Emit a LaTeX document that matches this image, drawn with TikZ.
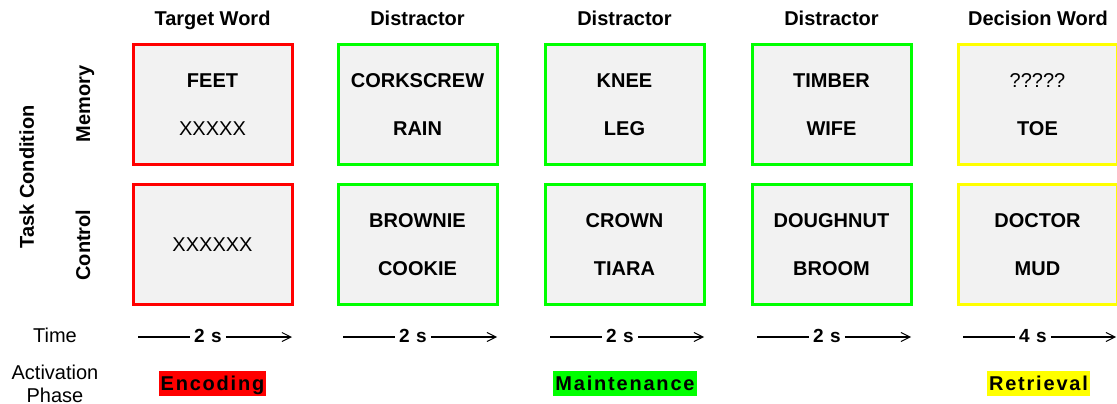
\documentclass[tikz,border=0pt]{standalone}
\usepackage{fontspec}
\setmainfont{Liberation Sans}
\usetikzlibrary{arrows.meta}
\definecolor{boxgrey}{RGB}{242,242,242}
\definecolor{encred}{RGB}{255,0,0}
\definecolor{mntgreen}{RGB}{0,255,0}
\definecolor{retyellow}{RGB}{255,255,0}
\tikzset{
  big/.style={font=\fontsize{20}{24}\selectfont},
  bigbf/.style={font=\fontsize{20}{24}\selectfont\bfseries},
  capline/.style={text height=14pt, text depth=0pt, inner sep=0pt},
  trialbox/.style={draw=#1, line width=3pt, fill=boxgrey,
    minimum width=159pt, minimum height=120pt, inner sep=0pt},
  header/.style={bigbf, capline},
  word/.style={bigbf, capline},
  mask/.style={big, capline},
  sidelabel/.style={bigbf, capline, rotate=90},
  rowlabel/.style={big, capline},
  duration/.style={font=\fontsize{19}{22}\selectfont\bfseries\addfontfeatures{LetterSpace=6},
    text height=13pt, text depth=0pt, inner xsep=4pt, inner ysep=0pt},
  timeline/.style={line width=1.6pt},
  timearrow/.style={timeline, -{Straight Barb[length=9pt,width=9pt,line width=1pt]}},
  phase/.style={fill=#1, font=\fontsize{20}{24}\selectfont\bfseries\addfontfeatures{LetterSpace=9},
    inner xsep=2pt, inner ysep=0pt, minimum height=25pt, text height=14pt, text depth=0pt}
}
\begin{document}
\begin{tikzpicture}[x=1pt, y=-1pt]
  \useasboundingbox (0,0) rectangle (1117,404);

  % column headers
  \node[header] (h1) at (212.5,18.5) {Target Word};
  \node[header] (h2) at (417.5,18.5) {Distractor};
  \node[header] (h3) at (624.5,18.5) {Distractor};
  \node[header] (h4) at (831.5,18.5) {Distractor};
  \node[header] (h5) at (1038,18.5) {Decision Word};

  % side labels
  \node[sidelabel] (task) at (27,177) {Task Condition};
  \node[sidelabel] (mem) at (83,104) {Memory};
  \node[sidelabel] (ctl) at (83,245) {Control};

  % memory row
  \node[trialbox=encred] (m1) at (212.5,104.5) {};
  \node[trialbox=mntgreen] (m2) at (417.5,104.5) {};
  \node[trialbox=mntgreen] (m3) at (624.5,104.5) {};
  \node[trialbox=mntgreen] (m4) at (831.5,104.5) {};
  \node[trialbox=retyellow] (m5) at (1037.5,104.5) {};

  % control row
  \node[trialbox=encred] (c1) at (212.5,244.5) {};
  \node[trialbox=mntgreen] (c2) at (417.5,244.5) {};
  \node[trialbox=mntgreen] (c3) at (624.5,244.5) {};
  \node[trialbox=mntgreen] (c4) at (831.5,244.5) {};
  \node[trialbox=retyellow] (c5) at (1037.5,244.5) {};

  % words in the memory row (upper word first)
  \node[word] (m1a) at ([yshift=24pt]m1.center) {FEET};
  \node[mask] (m1b) at ([yshift=-24pt]m1.center) {XXXXX};
  \node[word] (m2a) at ([yshift=24pt]m2.center) {CORKSCREW};
  \node[word] (m2b) at ([yshift=-24pt]m2.center) {RAIN};
  \node[word] (m3a) at ([yshift=24pt]m3.center) {KNEE};
  \node[word] (m3b) at ([yshift=-24pt]m3.center) {LEG};
  \node[word] (m4a) at ([yshift=24pt]m4.center) {TIMBER};
  \node[word] (m4b) at ([yshift=-24pt]m4.center) {WIFE};
  \node[mask] (m5a) at ([yshift=24pt]m5.center) {?????};
  \node[word] (m5b) at ([yshift=-24pt]m5.center) {TOE};

  % words in the control row
  \node[mask] (c1a) at (c1.center) {XXXXXX};
  \node[word] (c2a) at ([yshift=24pt]c2.center) {BROWNIE};
  \node[word] (c2b) at ([yshift=-24pt]c2.center) {COOKIE};
  \node[word] (c3a) at ([yshift=24pt]c3.center) {CROWN};
  \node[word] (c3b) at ([yshift=-24pt]c3.center) {TIARA};
  \node[word] (c4a) at ([yshift=24pt]c4.center) {DOUGHNUT};
  \node[word] (c4b) at ([yshift=-24pt]c4.center) {BROOM};
  \node[word] (c5a) at ([yshift=24pt]c5.center) {DOCTOR};
  \node[word] (c5b) at ([yshift=-24pt]c5.center) {MUD};

  % time row
  \node[rowlabel] (time) at (55,335) {Time};
  \foreach \i/\L/\d in {1/132/2, 2/337/2, 3/544/2, 4/751/2, 5/957/4} {
    \coordinate (ts\i) at (\L+6,337);
    \coordinate (te\i) at ({min(\L+160,1116)},337);
    \node[duration] (d\i) at (\L+76,336) {\d~s};
    \draw[timeline] (ts\i) -- (d\i.west |- ts\i);
    \draw[timearrow] (d\i.east |- ts\i) -- (te\i);
  }

  % activation phase row
  \node[rowlabel] (act) at (55,372) {Activation};
  \node[rowlabel] (phs) at (55,395) {Phase};
  \node[phase=encred] (enc) at (212.5,383.5) {Encoding};
  \node[phase=mntgreen] (mnt) at (625,383.5) {Maintenance};
  \node[phase=retyellow] (ret) at (1038.5,383.5) {Retrieval};
\end{tikzpicture}
\end{document}
